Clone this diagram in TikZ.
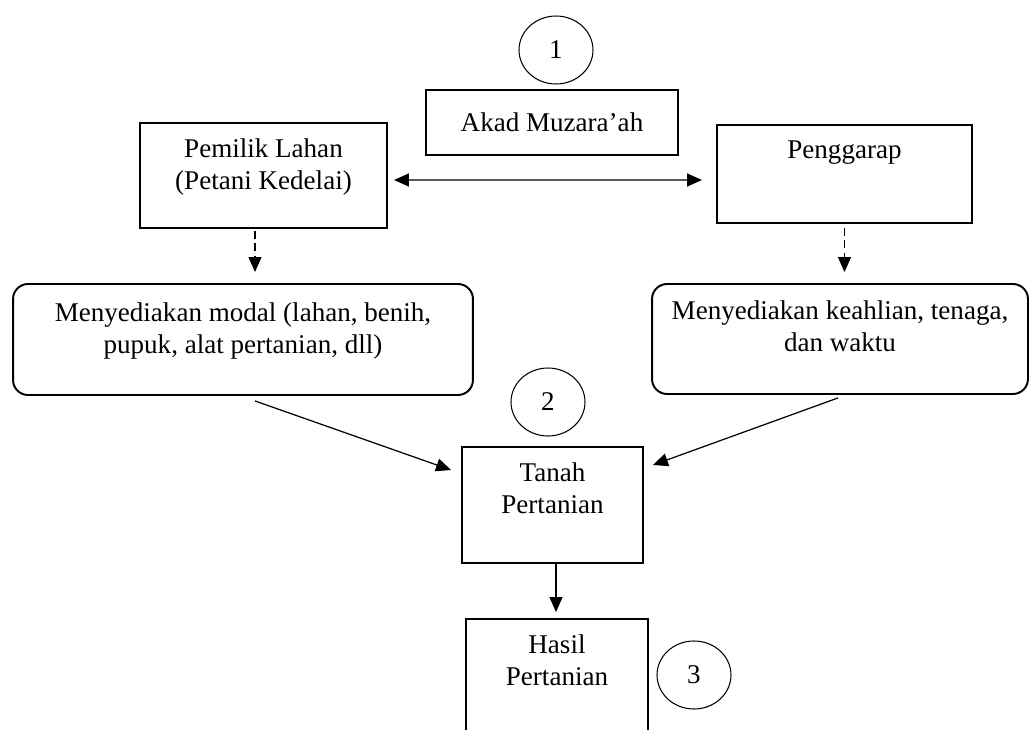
\documentclass[tikz,border=0pt]{standalone}
\usepackage{fontspec}
\setmainfont{Liberation Serif}
\usetikzlibrary{shapes.geometric,arrows.meta}
\tikzset{
  box/.style={draw, line width=1.1pt, inner sep=0pt},
  rbox/.style={box, rounded corners=0.3cm},
  txt/.style={anchor=north, align=center, inner sep=0pt, yshift=-0.33cm, font=\fontsize{15.4}{18.2}\selectfont},
  num/.style={draw, ellipse, line width=0.6pt, minimum width=1.48cm, minimum height=1.36cm, font=\fontsize{15.4}{18.2}\selectfont},
  arr/.style={line width=0.7pt, >={Triangle[length=0.3cm,width=0.26cm]}, ->},
  dasharr/.style={arr, dash pattern=on 4.5pt off 2.5pt}
}
\begin{document}
\begin{tikzpicture}[x=0.02cm, y=-0.02cm]
\useasboundingbox (0,0) rectangle (1029,730);
    % top row
    \node [num] (n1) at (556,50) {1};
    \node [box, minimum width=5.04cm, minimum height=1.3cm, font=\fontsize{15.4}{18.2}\selectfont] (akad) at (552,122.5) {Akad Muzara’ah};
    \node [box, minimum width=4.94cm, minimum height=2.1cm, label={[txt]north:{Pemilik Lahan\\(Petani Kedelai)}}] (pemilik) at (263.5,175.5) {};
    \node [box, minimum width=5.1cm, minimum height=1.96cm, label={[txt]north:Penggarap}] (penggarap) at (844.5,174) {};
    % contributions
    \node [rbox, minimum width=9.2cm, minimum height=2.22cm, label={[txt, yshift=-0.05cm]north:{Menyediakan modal (lahan, benih,\\pupuk, alat pertanian, dll)}}] (modal) at (243,339.5) {};
    \node [rbox, minimum width=7.52cm, minimum height=2.2cm, label={[txt, yshift=-0.02cm]north:{Menyediakan keahlian, tenaga,\\dan waktu}}] (keahlian) at (840,339) {};
    % land and result
    \node [num] (n2) at (548,402) {2};
    \node [box, minimum width=3.62cm, minimum height=2.32cm, label={[txt]north:{Tanah\\Pertanian}}] (tanah) at (552.5,505) {};
    \node [box, minimum width=3.64cm, minimum height=2.4cm, label={[txt]north:{Hasil\\Pertanian}}] (hasil) at (557,679) {};
    \node [num] (n3) at (694,675) {3};
    \draw [arr, <->, shorten <=0.12cm, shorten >=0.28cm] ([yshift=-0.09cm]pemilik.east) to ([yshift=-0.12cm]penggarap.west);
    \draw [dasharr, shorten <=0.04cm, shorten >=0.22cm] ([xshift=-0.17cm]pemilik.south) to ([xshift=-0.17cm]pemilik.south |- modal.north);
    \draw [dasharr, shorten <=0.08cm, shorten >=0.22cm] (penggarap.south) to (penggarap.south |- keahlian.north);
    \draw [arr] ([shift={(0.24cm,-0.1cm)}]modal.south) to ([shift={(-0.2cm,0.7cm)}]tanah.west);
    \draw [arr] ([shift={(-0.04cm,-0.06cm)}]keahlian.south) to ([shift={(0.18cm,0.8cm)}]tanah.east);
    \draw [arr, shorten >=0.12cm] ([xshift=0.07cm]tanah.south) to ([xshift=0.07cm]tanah.south |- hasil.north);
\end{tikzpicture}
\end{document}
